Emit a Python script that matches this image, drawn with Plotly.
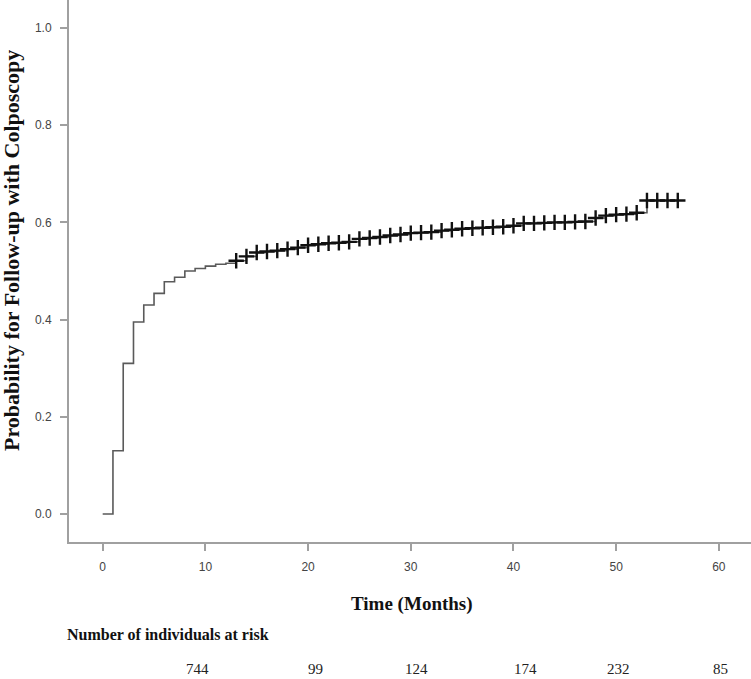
import plotly.graph_objects as go

# Kaplan-Meier style cumulative probability of follow-up (step function)
event_times = [0, 1, 2, 3, 4, 5, 6, 7, 8, 9, 10, 11, 12, 13, 14, 15, 16, 17, 18, 19,
               20, 21, 22, 23, 24, 25, 26, 27, 28, 29, 30, 31, 32, 33, 34, 35, 36, 37,
               38, 39, 40, 41, 42, 43, 44, 45, 46, 47, 48, 49, 50, 51, 52, 53]
event_probs = [0.0, 0.13, 0.31, 0.395, 0.43, 0.454, 0.478, 0.487, 0.50, 0.505, 0.510,
               0.514, 0.516, 0.521, 0.530, 0.538, 0.540, 0.542, 0.545, 0.548, 0.553,
               0.555, 0.557, 0.558, 0.560, 0.566, 0.568, 0.570, 0.573, 0.575, 0.578,
               0.579, 0.580, 0.583, 0.585, 0.587, 0.588, 0.589, 0.590, 0.591, 0.593,
               0.598, 0.598, 0.599, 0.600, 0.600, 0.601, 0.602, 0.609, 0.614, 0.616,
               0.617, 0.620, 0.645]
end_time = 56
censor_times = list(range(13, 57))

risk_times = [10, 20, 30, 40, 50, 60]
risk_counts = [744, 99, 124, 174, 232, 85]

y_ticks = [0.0, 0.2, 0.4, 0.6, 0.8, 1.0]
x_ticks = [0, 10, 20, 30, 40, 50, 60]


def km_value(t):
    v = event_probs[0]
    for et, p in zip(event_times, event_probs):
        if et <= t:
            v = p
    return v


line_x = event_times + [end_time]
line_y = event_probs + [event_probs[-1]]
censor_y = [km_value(t) for t in censor_times]

fig = go.Figure()
fig.add_trace(go.Scatter(x=line_x, y=line_y, mode="lines", line_shape="hv",
                         line=dict(color="#5a5a5a", width=1.6), hoverinfo="skip",
                         showlegend=False))
fig.add_trace(go.Scatter(x=censor_times, y=censor_y, mode="markers",
                         marker=dict(symbol="cross-thin", size=11,
                                     line=dict(color="#111111", width=2.4)),
                         showlegend=False))

W, H = 751, 679
L, R, T, B = 69, 0, 0, 137
pw, ph = W - L - R, H - T - B


def px(xp):
    return (xp - L) / pw


def py(yp):
    return (H - B - yp) / ph


serif = "Liberation Serif"
ann = []
ann.append(dict(text="<b>Probability for Follow-up with Colposcopy</b>", x=px(12), y=py(251),
                xref="paper", yref="paper", textangle=-90, showarrow=False,
                font=dict(family=serif, size=22, color="#111111"),
                xanchor="center", yanchor="middle"))
ann.append(dict(text="<b>Time (Months)</b>", x=px(412), y=py(604), xref="paper", yref="paper",
                showarrow=False, font=dict(family=serif, size=19, color="#111111"),
                xanchor="center", yanchor="middle"))
ann.append(dict(text="<b>Number of individuals at risk</b>", x=px(65), y=py(634),
                xref="paper", yref="paper", showarrow=False,
                font=dict(family=serif, size=16, color="#111111"),
                xanchor="left", yanchor="middle"))
risk_shift = [-8, 7, 6, 12, 2, 2]
for t, c, s in zip(risk_times, risk_counts, risk_shift):
    ann.append(dict(text=str(c), x=t, y=py(669), xref="x", yref="paper", xshift=s,
                    showarrow=False, font=dict(family=serif, size=15, color="#222222"),
                    xanchor="center", yanchor="middle"))

axis_common = dict(showline=True, linecolor="#a0a0a0", linewidth=2, ticks="outside",
                   ticklen=7, tickwidth=1.5, tickcolor="#a0a0a0", showgrid=False,
                   zeroline=False, tickfont=dict(family="Liberation Sans", size=12,
                                                 color="#444444"))

fig.update_layout(
    width=W, height=H, margin=dict(l=L, r=R, t=T, b=B, autoexpand=False),
    plot_bgcolor="white", paper_bgcolor="white",
    xaxis=dict(range=[-3.28, 63.13], tickvals=x_ticks, ticktext=[str(v) for v in x_ticks],
               ticklabelstandoff=6, **axis_common),
    yaxis=dict(range=[-0.0576, 1.0576], tickvals=y_ticks,
               ticktext=[f"{v:.1f}" for v in y_ticks], ticklabelstandoff=6, **axis_common),
    annotations=ann,
)

fig.write_html("out.html", config={"displayModeBar": False},
               post_script="document.body.style.margin='0';document.body.style.overflow='hidden';")
